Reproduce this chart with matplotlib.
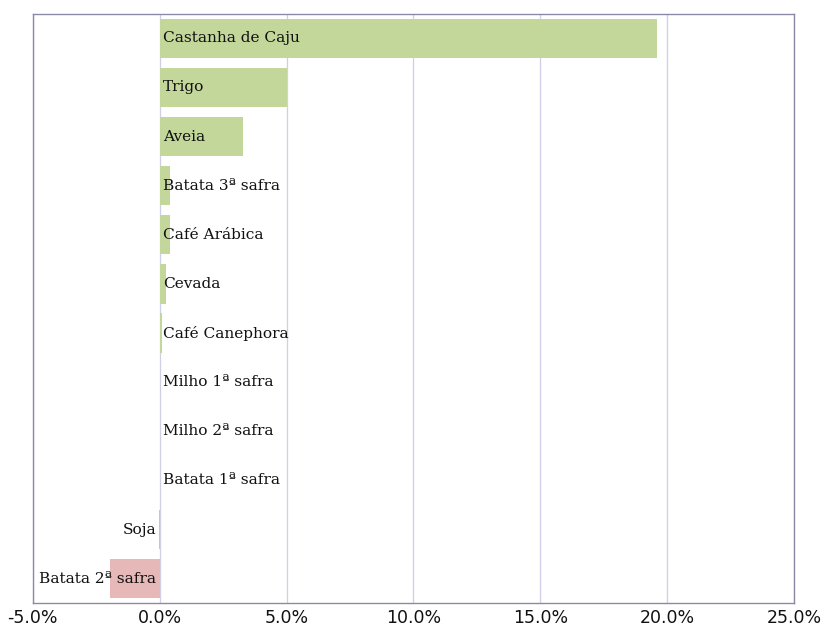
import matplotlib
matplotlib.use('Agg')
from matplotlib import pyplot as plt
from matplotlib.ticker import FuncFormatter

crops = ['Castanha de Caju', 'Trigo', 'Aveia', 'Batata 3ª safra', 'Café Arábica',
         'Cevada', 'Café Canephora', 'Milho 1ª safra', 'Milho 2ª safra',
         'Batata 1ª safra', 'Soja', 'Batata 2ª safra']
change = [19.6, 5.0, 3.3, 0.4, 0.4, 0.25, 0.08, 0.03, 0.02, 0.02, -0.03, -1.95]

colors = ['#c4d79b' if v >= 0 else '#e6b9b8' for v in change]

fig = plt.figure(figsize=(8.21, 6.27), dpi=100)
ax = fig.add_axes([0.040, 0.038, 0.927, 0.940])

y = list(range(len(crops)))
ax.barh(y, change, height=0.8, color=colors, zorder=2)

for i, v in zip(y, change):
    if v >= 0:
        ax.text(0.12, i, crops[i], ha='left', va='center', fontsize=11.1,
                family='DejaVu Serif', color='#111111', zorder=3)
    else:
        ax.text(-0.15, i, crops[i], ha='right', va='center', fontsize=11.1,
                family='DejaVu Serif', color='#111111', zorder=3)

ax.set_xlim(-5, 25)
ax.set_ylim(len(crops) - 0.5, -0.5)
ax.set_xticks([-5, 0, 5, 10, 15, 20, 25])
ax.xaxis.set_major_formatter(FuncFormatter(lambda v, p: '%.1f%%' % v))
ax.set_yticks([])
ax.tick_params(axis='x', length=0, labelsize=12.5, pad=4, colors='#111111')
ax.grid(axis='x', color='#cfcfe8', linewidth=0.9, zorder=0)
for s in ax.spines.values():
    s.set_color('#8a8aa6')
    s.set_linewidth(1.0)

fig.savefig('out.png', dpi=100)
